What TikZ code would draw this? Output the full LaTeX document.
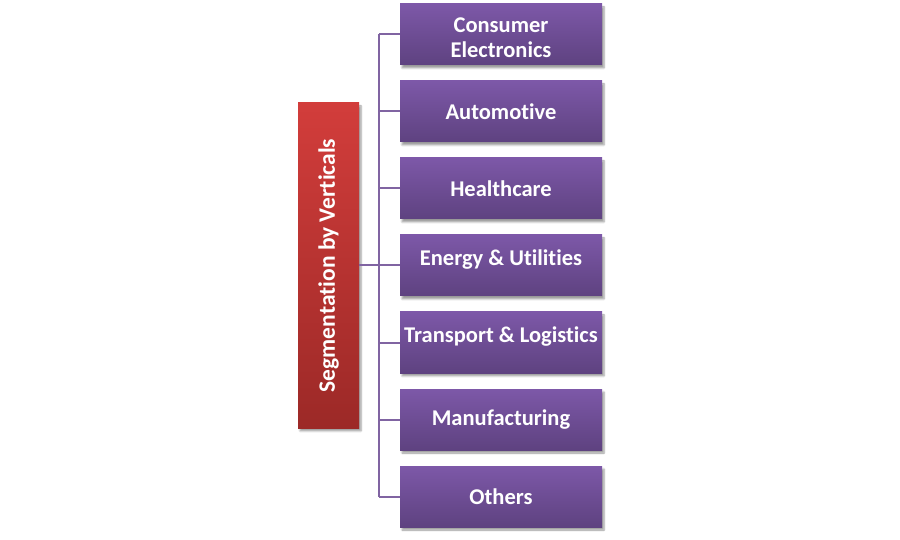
\documentclass[tikz,border=0pt]{standalone}
\usepackage{fontspec}
\setmainfont{Carlito}[Ligatures=NoCommon]
\usetikzlibrary{shadows.blur}
\definecolor{ptop}{HTML}{7D58A8}
\definecolor{pbot}{HTML}{5E4280}
\definecolor{rtop}{HTML}{D23D3B}
\definecolor{rbot}{HTML}{9C2927}
\definecolor{linec}{HTML}{8064A2}
\tikzset{
  cattext/.style={inner sep=0pt, align=center, text=white, font=\bfseries\fontsize{22.5}{25}\selectfont},
  cat/.style={minimum width=202pt, minimum height=61pt, inner sep=0pt,
    top color=ptop, bottom color=pbot,
    blur shadow={shadow xshift=2pt, shadow yshift=-3pt, shadow blur steps=5, shadow opacity=40}},
  root/.style={minimum width=61pt, minimum height=325pt, inner sep=0pt,
    top color=rtop, bottom color=rbot,
    blur shadow={shadow xshift=2pt, shadow yshift=-3pt, shadow blur steps=5, shadow opacity=40}},
  roottext/.style={rotate=90, text=white, font=\bfseries\fontsize{23.5}{25}\selectfont},
  conn/.style={draw=linec, line width=2pt}
}
\begin{document}
\begin{tikzpicture}[x=1pt,y=1pt]
\useasboundingbox (0,0) rectangle (900,539);
\node[root] (root) at (328.5,273.5) {};
\node[roottext] (roottxt) at (root.center) {Segmentation by Verticals};
\coordinate (trunk) at (379,273.5);
\coordinate (ttop) at (379,504.5);
\coordinate (tbot) at (379,42.5);
\node[cat] (c1) at (501,504.5) {};
\node[cat] (c2) at (501,427.5) {};
\node[cat] (c3) at (501,350.5) {};
\node[cat] (c4) at (501,273.5) {};
\node[cat] (c5) at (501,196.5) {};
\node[cat] (c6) at (501,119.5) {};
\node[cat] (c7) at (501,42.5) {};
\node[cattext] (t1) at ([yshift=-3pt]c1.center) {Consumer\\Electronics};
\node[cattext] (t2) at (c2.center) {Automotive};
\node[cattext] (t3) at (c3.center) {Healthcare};
\node[cattext] (t4) at ([yshift=6pt]c4.center) {Energy \& Utilities};
\node[cattext] (t5) at ([yshift=6pt]c5.center) {Transport \& Logistics};
\node[cattext] (t6) at (c6.center) {Manufacturing};
\node[cattext] (t7) at (c7.center) {Others};
\draw[conn] (root.east) -- (trunk);
\draw[conn] (ttop) -- (tbot);
\foreach \i in {1,...,7} {
  \draw[conn] (c\i.west) -- (c\i.west -| trunk);
}
\end{tikzpicture}
\end{document}
